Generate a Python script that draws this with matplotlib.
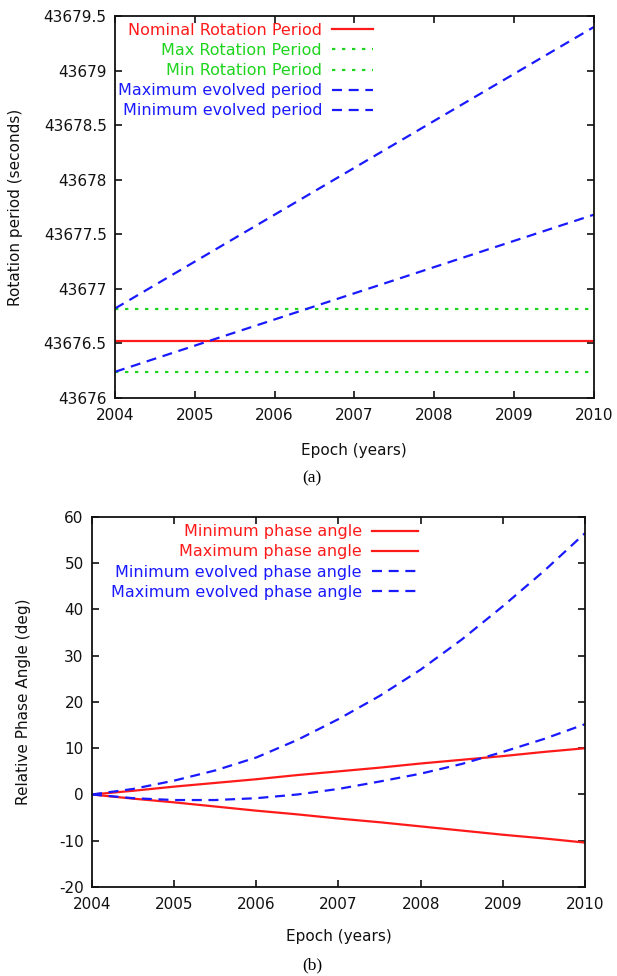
import numpy as np
import matplotlib.pyplot as plt

plt.rcParams['font.family'] = ['DejaVu Sans']
plt.rcParams['axes.unicode_minus'] = False

# ---- panel (a): rotation period ----
years = [2004, 2005, 2006, 2007, 2008, 2009, 2010]
nominal_period = 43676.52
max_period = 43676.82
min_period = 43676.24
max_evolved = [43676.82, 43677.25, 43677.68, 43678.11, 43678.54, 43678.97, 43679.40]
min_evolved = [43676.24, 43676.48, 43676.72, 43676.96, 43677.20, 43677.44, 43677.68]
period_ticks = [43676, 43676.5, 43677, 43677.5, 43678, 43678.5, 43679, 43679.5]
period_ticklabels = ['43676', '43676.5', '43677', '43677.5', '43678', '43678.5', '43679', '43679.5']

# ---- panel (b): relative phase angle ----
phase_years = [2004, 2004.5, 2005, 2005.5, 2006, 2006.5, 2007, 2007.5, 2008, 2008.5, 2009, 2009.5, 2010]
min_phase = [0, -0.9, -1.7, -2.6, -3.5, -4.3, -5.2, -6.0, -6.9, -7.8, -8.7, -9.5, -10.4]
max_phase = [0, 0.8, 1.7, 2.5, 3.3, 4.2, 5.0, 5.8, 6.7, 7.5, 8.3, 9.2, 10.0]
min_evolved_phase = [0, -0.8, -1.2, -1.2, -0.8, 0.0, 1.2, 2.8, 4.5, 6.6, 9.2, 12.0, 15.2]
max_evolved_phase = [0, 1.2, 3.0, 5.2, 8.0, 11.8, 16.3, 21.3, 27.0, 33.5, 40.7, 48.3, 56.5]
phase_ticks = [-20, -10, 0, 10, 20, 30, 40, 50, 60]

RED = '#ff1a1a'
GREEN = '#1ed41e'
BLUE = '#1a1aff'
dash = (4.5, 3)
dots = (1.5, 3)

fig = plt.figure(figsize=(6.17, 9.76), dpi=100)


def style_axes(ax):
    for s in ax.spines.values():
        s.set_linewidth(1.3)
        s.set_color('#111111')
    ax.tick_params(direction='in', length=5, width=1.2, top=True, right=True,
                   labelsize=11, colors='#111111')
    ax.tick_params(axis='x', pad=7)
    ax.tick_params(axis='y', pad=6)
    ax.set_xticks(years)
    ax.set_xlim(2004, 2010)


def right_legend(ax, x, y, hl):
    leg = ax.legend(loc='upper right', bbox_to_anchor=(x, y), frameon=False,
                    markerfirst=False, fontsize=11.5, labelcolor='linecolor',
                    handlelength=hl, handletextpad=0.6, labelspacing=0.32,
                    borderpad=0, borderaxespad=0)
    leg._legend_box.align = 'right'
    return leg


# top panel
ax1 = fig.add_axes([0.1864, 0.5922, 0.7763, 0.3914])
ax1.plot(years, [nominal_period] * len(years), color=RED, lw=1.6, label='Nominal Rotation Period')
ax1.plot(years, [max_period] * len(years), color=GREEN, lw=1.6, dashes=dots, label='Max Rotation Period')
ax1.plot(years, [min_period] * len(years), color=GREEN, lw=1.6, dashes=dots, label='Min Rotation Period')
ax1.plot(years, max_evolved, color=BLUE, lw=1.6, dashes=dash, label='Maximum evolved period')
ax1.plot(years, min_evolved, color=BLUE, lw=1.6, dashes=dash, label='Minimum evolved period')
ax1.set_ylim(43676, 43679.5)
ax1.set_yticks(period_ticks, period_ticklabels)
style_axes(ax1)
right_legend(ax1, 0.539, 0.982, 2.6)

fig.text(16 / 617, 1 - 207 / 976, 'Rotation period (seconds)', rotation=90,
         ha='center', va='center', fontsize=11, color='#111111')
fig.text(354 / 617, 1 - 450 / 976, 'Epoch (years)', ha='center', va='center',
         fontsize=11, color='#111111')
fig.text(312 / 617, 1 - 478 / 976, '(a)', ha='center', va='center',
         fontsize=12.5, family='Liberation Serif')

# bottom panel
ax2 = fig.add_axes([0.1491, 0.0912, 0.7990, 0.3791])
ax2.plot(phase_years, max_phase, color=RED, lw=1.6, label='Minimum phase angle')
ax2.plot(phase_years, min_phase, color=RED, lw=1.6, label='Maximum phase angle')
ax2.plot(phase_years, min_evolved_phase, color=BLUE, lw=1.6, dashes=dash, label='Minimum evolved phase angle')
ax2.plot(phase_years, max_evolved_phase, color=BLUE, lw=1.6, dashes=dash, label='Maximum evolved phase angle')
ax2.set_ylim(-20, 60)
ax2.set_yticks(phase_ticks)
style_axes(ax2)
right_legend(ax2, 0.661, 0.980, 2.9)

fig.text(24 / 617, 1 - 702 / 976, 'Relative Phase Angle (deg)', rotation=90,
         ha='center', va='center', fontsize=11, color='#111111')
fig.text(339 / 617, 1 - 937 / 976, 'Epoch (years)', ha='center', va='center',
         fontsize=11, color='#111111')
fig.text(312 / 617, 1 - 965 / 976, '(b)', ha='center', va='center',
         fontsize=12.5, family='Liberation Serif')

fig.savefig('out.png', dpi=100)
